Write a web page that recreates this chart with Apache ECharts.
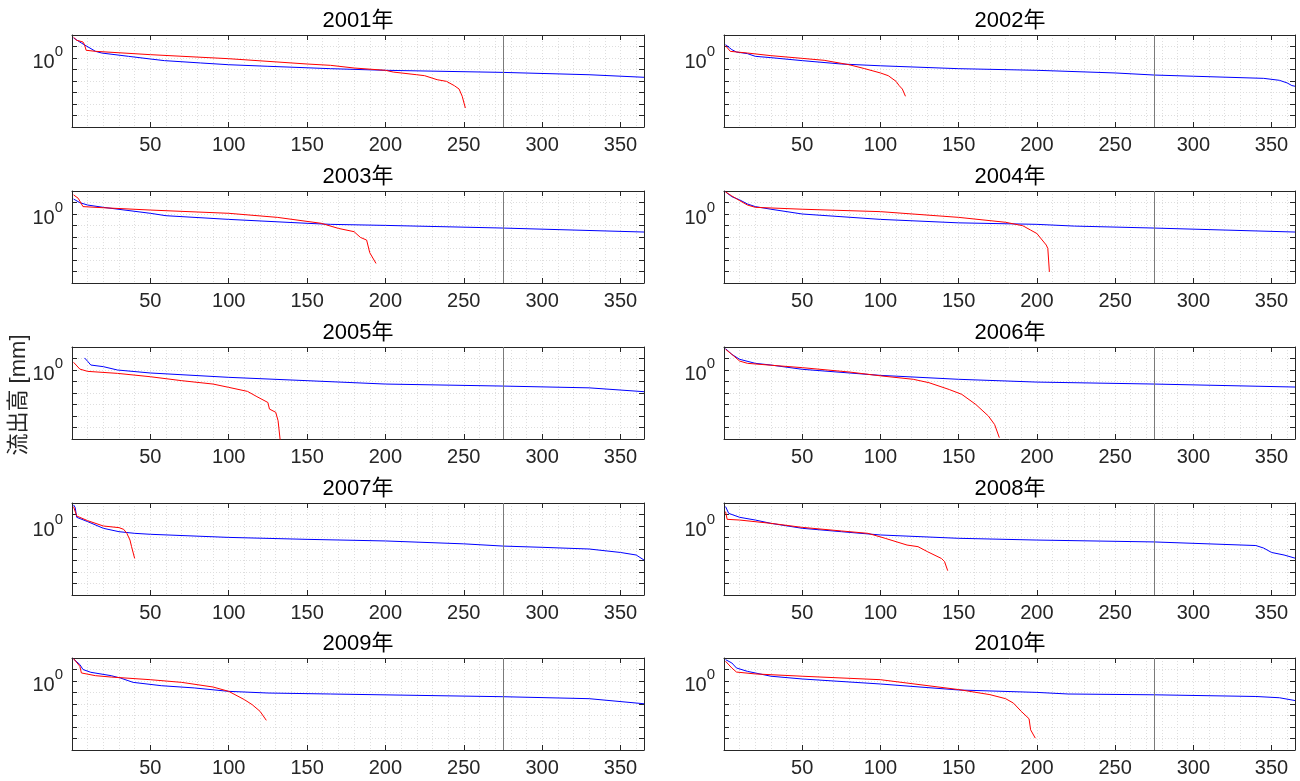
<!DOCTYPE html>
<html>
<head>
<meta charset="utf-8">
<title>流出高</title>
<script src="https://cdn.jsdelivr.net/npm/echarts@6/dist/echarts.min.js"></script>
<style>
  html, body { margin: 0; padding: 0; background: #fff; }
  #chart { width: 1300px; height: 781px; }
</style>
</head>
<body>
<div id="chart"></div>
<script>
// panel titles
const years = ['2001年', '2002年', '2003年', '2004年', '2005年', '2006年', '2007年', '2008年', '2009年', '2010年'];

// [day, runoff mm]
const blue2001 = [[1,55],[6,20],[15,3.8],[19,2.7],[36,1.4],[50,0.82],[59,0.59],[82,0.37],[100,0.26],[125,0.19],[165,0.118],[200,0.085],[275,0.056],[330,0.035],[365,0.021]];
const red2001 = [[1,63],[3,35],[7,24.5],[8,14.5],[9,4.7],[15,3.8],[50,1.95],[100,0.87],[150,0.30],[165,0.23],[180,0.135],[200,0.085],[205,0.06],[220,0.035],[225,0.029],[233,0.013],[239,0.0093],[244,0.0039],[247,0.002],[249,0.00047],[251,0.000045]];

const blue2002 = [[1,14.5],[5,5.3],[8,3.3],[15,2.4],[20,1.4],[30,1.07],[50,0.59],[75,0.30],[100,0.21],[150,0.118],[200,0.085],[250,0.05],[275,0.033],[300,0.026],[345,0.017],[355,0.0115],[360,0.0068],[363,0.004],[365,0.0035]];
const red2002 = [[1,11.8],[2,10.3],[4,3.8],[15,2.7],[30,1.6],[50,0.93],[64,0.63],[80,0.26],[90,0.118],[100,0.05],[105,0.029],[110,0.0093],[112,0.0039],[114,0.002],[116,0.00047]];

const blue2003 = [[1,20],[5,9.7],[10,6.0],[20,3.8],[50,1.15],[60,0.71],[100,0.34],[150,0.155],[165,0.126],[200,0.102],[275,0.06],[365,0.027]];
const red2003 = [[1,46],[4,23],[7,4.4],[20,3.5],[50,2.2],[100,1.15],[131,0.51],[159,0.155],[170,0.056],[180,0.029],[184,0.0093],[188,0.0054],[190,0.00043],[194,0.00005]];

const blue2004 = [[1,83],[5,32],[10,17],[15,7.4],[20,4.4],[30,2.6],[50,1.0],[100,0.34],[150,0.17],[200,0.126],[224,0.089],[275,0.06],[365,0.027]];
const red2004 = [[1,83],[5,37],[10,14.5],[15,6.0],[20,3.8],[50,2.6],[100,1.6],[150,0.51],[180,0.19],[191,0.095],[196,0.04],[200,0.02],[206,0.002],[207,0.001],[208,0.0000093]];

const blue2005 = [[8,11.2],[10,5.7],[12,2.7],[20,1.95],[29,1.0],[50,0.55],[100,0.23],[150,0.118],[200,0.06],[275,0.04],[330,0.028],[365,0.013]];
const red2005 = [[1,4.7],[5,1.2],[10,0.76],[29,0.51],[50,0.26],[70,0.118],[90,0.06],[100,0.031],[112,0.0138],[118,0.0048],[125,0.0015],[126,0.0004],[130,0.00021],[131.5,0.000039],[133,0.0000005]];

const blue2006 = [[1,72],[5,23],[10,8.5],[20,3.8],[30,2.7],[50,1.15],[100,0.34],[150,0.155],[200,0.089],[275,0.06],[365,0.033]];
const red2006 = [[1,63],[5,23],[10,6.0],[15,3.8],[30,2.6],[50,1.6],[80,0.67],[101,0.3],[121,0.155],[131,0.079],[144,0.02],[152,0.0076],[161,0.001],[169,0.0001],[173,0.000018],[176,0.0000013]];

const blue2007 = [[1,68],[2,42],[3,5.7],[10,2.4],[20,0.63],[30,0.32],[40,0.23],[50,0.19],[100,0.102],[150,0.069],[200,0.05],[250,0.028],[275,0.018],[300,0.014],[330,0.01],[350,0.005],[360,0.003],[365,0.0011]];
const red2007 = [[1,48],[3,7.4],[10,2.9],[20,1.0],[30,0.72],[33,0.51],[35,0.23],[37,0.06],[38,0.016],[40,0.0015]];

const blue2008 = [[1,49],[3,12.6],[10,5.7],[20,3.3],[30,1.7],[50,0.63],[75,0.32],[100,0.166],[150,0.085],[200,0.06],[275,0.041],[340,0.02],[345,0.012],[350,0.005],[358,0.003],[365,0.0016]];
const red2008 = [[1,17.8],[2,3.8],[10,3.3],[30,1.7],[50,0.76],[75,0.37],[92,0.23],[103,0.085],[117,0.022],[124,0.016],[130,0.0059],[139,0.0015],[141,0.0008],[143,0.00013]];

const blue2009 = [[1,81],[5,27],[7,10],[12,5.7],[25,2.9],[31,1.8],[39,0.76],[57,0.39],[78,0.25],[100,0.126],[125,0.09],[165,0.074],[275,0.043],[330,0.029],[365,0.0105]];
const red2009 = [[1,87],[5,19],[6,5.0],[15,2.9],[25,2.2],[50,1.3],[70,0.76],[90,0.30],[100,0.126],[110,0.024],[115,0.0087],[120,0.0023],[124,0.00038]];

const blue2010 = [[1,72],[5,37],[8,13.5],[15,6.9],[30,2.6],[50,1.5],[100,0.55],[150,0.166],[200,0.102],[220,0.074],[275,0.063],[340,0.045],[355,0.035],[365,0.02]];
const red2010 = [[1,52],[5,13.5],[8,6.0],[20,4.1],[50,2.6],[100,1.3],[150,0.18],[170,0.065],[180,0.029],[185,0.012],[190,0.0023],[195,0.00052],[196,0.000057],[199,0.0000107]];

const blueCurves = [blue2001, blue2002, blue2003, blue2004, blue2005, blue2006, blue2007, blue2008, blue2009, blue2010];
const redCurves = [red2001, red2002, red2003, red2004, red2005, red2006, red2007, red2008, red2009, red2010];

const refDay = 275;   // vertical reference line
const dayMax = 365;
const yMin = 1e-6, yMax = 100;

// layout
const FONT = "'Liberation Sans', 'Noto Sans CJK JP', sans-serif";
const AXIS = '#262626';
const rowTops = [35, 191, 347, 503, 658];
const colLefts = [72, 724];
const plotW = 572, plotH = 92;

const chart = echarts.init(document.getElementById('chart'));

const grid = [], xAxis = [], yAxis = [], series = [], graphic = [];

years.forEach((name, i) => {
	const row = Math.floor(i / 2), col = i % 2;
	const left = colLefts[col], top = rowTops[row];

	grid.push({ left: left, top: top, width: col ? plotW - 1 : plotW, height: plotH, show: false });

	graphic.push({
		type: 'text', x: left + plotW / 2, y: top - 14.5, silent: true,
		style: { text: name, fontSize: 22, fontWeight: 'normal', fontFamily: FONT, fill: '#000', align: 'center', verticalAlign: 'middle' }
	});

	const xCommon = { type: 'value', gridIndex: i, min: 0, max: dayMax };
	// bottom axis with labels
	xAxis.push(Object.assign({}, xCommon, {
		position: 'bottom', interval: 50,
		axisLine: { show: true, onZero: false, lineStyle: { color: AXIS, width: 1 } },
		axisTick: { show: true, inside: true, length: 5, lineStyle: { color: AXIS } },
		axisLabel: {
			show: true, margin: 8, fontSize: 20, fontFamily: FONT, color: AXIS,
			showMinLabel: false, showMaxLabel: false,
			formatter: v => (v > 0 && v % 50 === 0) ? String(v) : ''
		},
		splitLine: { show: false }
	}));
	// top axis: box edge + ticks
	xAxis.push(Object.assign({}, xCommon, {
		position: 'top', interval: 50,
		axisLine: { show: true, onZero: false, lineStyle: { color: AXIS, width: 1 } },
		axisTick: { show: true, inside: true, length: 5, lineStyle: { color: AXIS } },
		axisLabel: { show: false },
		splitLine: { show: false }
	}));
	// grid lines every 10 days
	xAxis.push(Object.assign({}, xCommon, {
		position: 'bottom', interval: 10,
		axisLine: { show: false }, axisTick: { show: false }, axisLabel: { show: false },
		splitLine: { show: true, lineStyle: { color: '#dedede', width: 1, type: [1, 2] } }
	}));

	const yCommon = { type: 'log', logBase: 10, gridIndex: i, min: yMin, max: yMax, splitNumber: 8 };
	yAxis.push(Object.assign({}, yCommon, {
		position: 'left',
		axisLine: { show: true, onZero: false, lineStyle: { color: AXIS, width: 1 } },
		axisTick: { show: true, inside: true, length: 5, lineStyle: { color: AXIS } },
		axisLabel: {
			show: true, margin: 9, color: AXIS,
			formatter: v => Math.abs(Math.log10(v)) < 1e-6 ? '{b|10}{s|0}' : '',
			rich: {
				b: { fontSize: 20, fontFamily: FONT, color: AXIS, verticalAlign: 'bottom', lineHeight: 28 },
				s: { fontSize: 15, fontFamily: FONT, color: AXIS, verticalAlign: 'top', lineHeight: 28 }
			}
		},
		splitLine: { show: true, lineStyle: { color: '#dedede', width: 1, type: [1, 2] } }
	}));
	yAxis.push(Object.assign({}, yCommon, {
		position: 'right',
		axisLine: { show: true, onZero: false, lineStyle: { color: AXIS, width: 1 } },
		axisTick: { show: true, inside: true, length: 5, lineStyle: { color: AXIS } },
		axisLabel: { show: false },
		splitLine: { show: false }
	}));

	series.push({
		type: 'line', name: 'blue' + i, xAxisIndex: 3 * i, yAxisIndex: 2 * i,
		data: blueCurves[i], showSymbol: false, symbol: 'none', clip: true,
		lineStyle: { color: '#0000ff', width: 1 }, itemStyle: { color: '#0000ff' },
		z: 3,
		markLine: {
			silent: true, symbol: ['none', 'none'], label: { show: false },
			lineStyle: { color: '#7a7a7a', width: 1, type: 'solid' },
			data: [{ xAxis: refDay }]
		}
	});
	series.push({
		type: 'line', name: 'red' + i, xAxisIndex: 3 * i, yAxisIndex: 2 * i,
		data: redCurves[i], showSymbol: false, symbol: 'none', clip: true,
		lineStyle: { color: '#ff0000', width: 1 }, itemStyle: { color: '#ff0000' },
		z: 4
	});
});

// shared y label
graphic.push({
	type: 'text', x: 19, y: 395, rotation: Math.PI / 2, silent: true,
	style: { text: '流出高 [mm]', fontSize: 22, fontFamily: FONT, fill: AXIS, align: 'center', verticalAlign: 'middle' }
});

chart.setOption({
	backgroundColor: '#fff',
	animation: false,
	grid: grid,
	xAxis: xAxis,
	yAxis: yAxis,
	series: series,
	graphic: graphic
});
</script>
</body>
</html>
